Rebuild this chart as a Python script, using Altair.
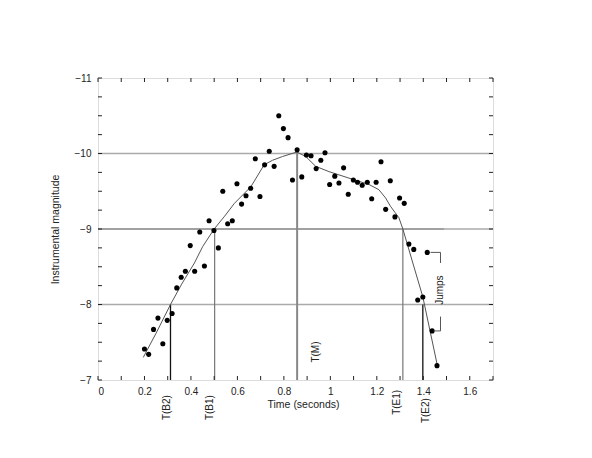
import altair as alt
import pandas as pd

# observed points
pts_t = [0.200,0.218,0.239,0.258,0.279,0.298,0.319,0.339,0.358,0.376,
         0.397,0.416,0.438,0.458,0.478,0.499,0.518,0.537,0.558,0.578,
         0.598,0.618,0.637,0.657,0.677,0.697,0.717,0.737,0.758,0.778,
         0.798,0.818,0.837,0.857,0.877,0.897,0.917,0.939,0.959,0.977,
         0.997,1.019,1.037,1.057,1.077,1.099,1.117,1.137,1.159,1.178,
         1.197,1.218,1.238,1.258,1.278,1.298,1.318,1.338,1.359,1.376,
         1.398,1.417,1.438,1.459]
pts_m = [-7.41,-7.34,-7.67,-7.82,-7.48,-7.79,-7.88,-8.22,-8.36,-8.44,
         -8.78,-8.44,-8.96,-8.51,-9.11,-8.98,-8.75,-9.50,-9.07,-9.11,
         -9.60,-9.33,-9.44,-9.54,-9.93,-9.43,-9.85,-10.03,-9.83,-10.50,
         -10.33,-10.21,-9.65,-10.05,-9.69,-9.98,-9.97,-9.80,-9.91,-10.01,
         -9.59,-9.70,-9.61,-9.81,-9.46,-9.65,-9.62,-9.58,-9.62,-9.40,
         -9.62,-9.89,-9.26,-9.64,-9.16,-9.41,-9.34,-8.80,-8.73,-8.06,
         -8.10,-8.69,-7.65,-7.19]

# smoothed light curve
curve_t = [0.195,0.25,0.312,0.36,0.415,0.451,0.50,0.545,0.587,0.658,0.715,0.751,0.794,
           0.856,0.894,0.937,0.994,1.094,1.166,1.209,1.238,1.259,1.278,1.295,1.312,1.398,1.46]
curve_m = [-7.30,-7.62,-8.0,-8.27,-8.55,-8.77,-9.0,-9.17,-9.34,-9.56,-9.85,-9.91,-9.96,
           -10.02,-9.96,-9.83,-9.76,-9.66,-9.59,-9.52,-9.41,-9.30,-9.22,-9.15,-9.0,-8.10,-7.20]

# event markers
ev_names = ["T(B2)", "T(B1)", "T(M)", "T(E1)", "T(E2)"]
ev_t = [0.312, 0.502, 0.857, 1.312, 1.398]
ev_top = [-8.0, -9.0, -10.02, -9.0, -8.0]
ev_label_t = [0.295, 0.484, 0.94, 1.288, 1.412]
ev_label_m = [-6.80, -6.80, -7.37, -6.87, -6.76]

x_labels = [0, 0.2, 0.4, 0.6, 0.8, 1.0, 1.2, 1.4, 1.6]
y_labels = [-11, -10, -9, -8, -7]
x_ticks = [round(i * 0.1, 1) for i in range(18)]
y_ticks = [-11 + i * 0.25 for i in range(17)]

FONT = "Liberation Sans"
W, H = 395, 302
XMAX = 1.7
TX = 4 / 233.0   # tick length in x units
TY = 4 / 75.5    # tick length in y units

xs = alt.Scale(domain=[0, XMAX], nice=False, zero=False)
ys = alt.Scale(domain=[-11, -7], reverse=True, nice=False, zero=False)

xa = alt.Axis(title="Time (seconds)", values=x_labels, format="~g", ticks=False,
              domain=False, grid=False, labelPadding=6, titlePadding=3, titleX=205,
              titleFontWeight="normal", titleFont=FONT, titleFontSize=10.5,
              labelFont=FONT, labelFontSize=10, labelColor="#222", titleColor="#222")
ya = alt.Axis(title="Instrumental magnitude", values=y_labels, format="~g", ticks=False,
              domain=False, grid=False, labelPadding=7, titlePadding=14,
              titleFontWeight="normal", titleFont=FONT, titleFontSize=10.5,
              labelFont=FONT, labelFontSize=10, labelColor="#222", titleColor="#222")

def X(f):
    return alt.X(f, scale=xs, axis=xa, title="Time (seconds)")

def Y(f):
    return alt.Y(f, scale=ys, axis=ya, title="Instrumental magnitude")

df_pts = pd.DataFrame({"t": pts_t, "m": pts_m})
df_curve = pd.DataFrame({"t": curve_t, "m": curve_m, "o": list(range(len(curve_t)))})

points = alt.Chart(df_pts).mark_circle(size=26, color="black", opacity=1).encode(
    x=X("t:Q"), y=Y("m:Q"))

curve = alt.Chart(df_curve).mark_line(color="#555", strokeWidth=1).encode(
    x=X("t:Q"), y=Y("m:Q"), order="o:Q")

# horizontal reference lines
df_hgray = pd.DataFrame({"t": [0, 0, 1.49], "t2": [XMAX, XMAX, XMAX], "m": [-10, -8, -9]})
df_hdark = pd.DataFrame({"t": [0], "t2": [1.49], "m": [-9]})
hgray = alt.Chart(df_hgray).mark_rule(color="#aaa", strokeWidth=1.5).encode(
    x=X("t:Q"), x2="t2:Q", y=Y("m:Q"))
hdark = alt.Chart(df_hdark).mark_rule(color="#444", strokeWidth=1.2).encode(
    x=X("t:Q"), x2="t2:Q", y=Y("m:Q"))

df_ev = pd.DataFrame({"name": ev_names, "t": ev_t, "m": ev_top, "m2": [-7] * 5})
vblack = alt.Chart(df_ev).transform_filter(
    "datum.name == 'T(B2)' || datum.name == 'T(E2)'"
).mark_rule(color="#111", strokeWidth=1.3).encode(x=X("t:Q"), y=Y("m:Q"), y2="m2:Q")
vgray = alt.Chart(df_ev).transform_filter(
    "datum.name == 'T(B1)' || datum.name == 'T(E1)'"
).mark_rule(color="#777", strokeWidth=1.2).encode(x=X("t:Q"), y=Y("m:Q"), y2="m2:Q")
vmid = alt.Chart(df_ev).transform_filter(
    "datum.name == 'T(M)'"
).mark_rule(color="#888", strokeWidth=2).encode(x=X("t:Q"), y=Y("m:Q"), y2="m2:Q")

df_evlab = pd.DataFrame({"name": ev_names, "t": ev_label_t, "m": ev_label_m})
evlab_below = alt.Chart(df_evlab).transform_filter("datum.name != 'T(M)'").mark_text(
    angle=270, align="right", baseline="middle", font=FONT, fontSize=10, color="#222"
).encode(x=X("t:Q"), y=Y("m:Q"), text="name:N")
evlab_mid = alt.Chart(df_evlab).transform_filter("datum.name == 'T(M)'").mark_text(
    angle=270, align="center", baseline="middle", font=FONT, fontSize=10, color="#222"
).encode(x=X("t:Q"), y=Y("m:Q"), text="name:N")

# "Jumps" bracket
jump_h = pd.DataFrame({"t": [1.431, 1.445], "t2": [1.474, 1.474], "m": [-8.69, -7.65]})
jump_v = pd.DataFrame({"t": [1.474, 1.474], "m": [-8.69, -7.65], "m2": [-8.55, -7.84]})
jh = alt.Chart(jump_h).mark_rule(color="#555", strokeWidth=1).encode(
    x=X("t:Q"), x2="t2:Q", y=Y("m:Q"))
jv = alt.Chart(jump_v).mark_rule(color="#555", strokeWidth=1).encode(
    x=X("t:Q"), y=Y("m:Q"), y2="m2:Q")
jtext = alt.Chart(pd.DataFrame({"t": [1.474], "m": [-8.19], "label": ["Jumps"]})).mark_text(
    angle=270, align="center", baseline="middle", font=FONT, fontSize=10, color="#222"
).encode(x=X("t:Q"), y=Y("m:Q"), text="label:N")

# inward ticks on all four sides
df_xt = pd.DataFrame({"t": x_ticks})
df_yt = pd.DataFrame({"m": y_ticks})
tick_bottom = alt.Chart(df_xt).mark_rule(color="#222", strokeWidth=1).encode(
    x=X("t:Q"), y=Y("a:Q"), y2="b:Q").transform_calculate(a="-7", b=f"-7-{TY}")
tick_top = alt.Chart(df_xt).mark_rule(color="#222", strokeWidth=1).encode(
    x=X("t:Q"), y=Y("a:Q"), y2="b:Q").transform_calculate(a="-11", b=f"-11+{TY}")
tick_left = alt.Chart(df_yt).mark_rule(color="#222", strokeWidth=1).encode(
    y=Y("m:Q"), x=X("a:Q"), x2="b:Q").transform_calculate(a="0", b=f"{TX}")
tick_right = alt.Chart(df_yt).mark_rule(color="#222", strokeWidth=1).encode(
    y=Y("m:Q"), x=X("a:Q"), x2="b:Q").transform_calculate(a=f"{XMAX}", b=f"{XMAX}-{TX}")

chart = alt.layer(
    hgray, hdark, vmid, vgray, vblack, curve, points,
    evlab_below, evlab_mid, jh, jv, jtext,
    tick_bottom, tick_top, tick_left, tick_right,
).properties(
    width=W, height=H,
    padding={"left": 90, "top": 70, "right": 91, "bottom": 70},
    autosize=alt.AutoSizeParams(type="none"),
).configure_view(
    stroke="#777", strokeWidth=1.2
).configure_axis(
    labelFont=FONT, labelFontSize=10, labelColor="#222",
    titleFont=FONT, titleFontSize=10.5, titleFontWeight="normal", titleColor="#222",
).configure(background="white")

chart.save("out.html", embed_options={"renderer": "svg", "actions": False})
